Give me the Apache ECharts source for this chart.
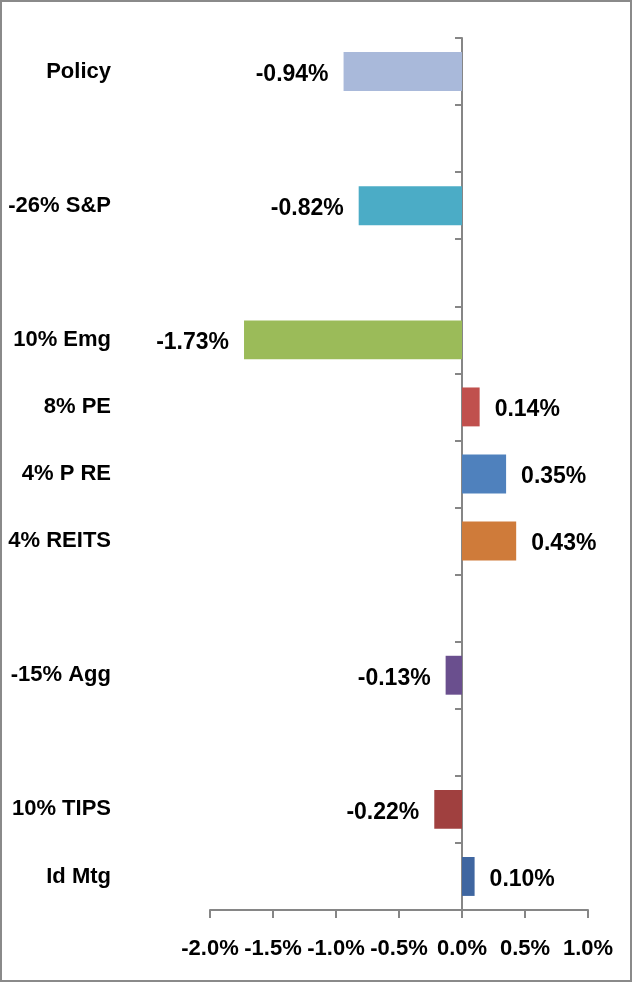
<!DOCTYPE html>
<html>
<head>
<meta charset="utf-8">
<script src="https://cdn.jsdelivr.net/npm/echarts@6/dist/echarts.min.js"></script>
<style>
  html, body { margin: 0; padding: 0; background: #fff; }
  #chart { position: absolute; left: 0; top: 0; width: 632px; height: 982px; }
  #frame { position: absolute; left: 0; top: 0; width: 632px; height: 982px; box-sizing: border-box; border: 2px solid #8a8a8a; pointer-events: none; }
</style>
</head>
<body>
<div id="chart"></div>
<div id="frame"></div>
<script>
// categories, top to bottom (blank rows are gaps in the original)
const categories = ['Policy', '', '-26% S&P', '', '10% Emg', '8% PE', '4% P RE', '4% REITS', '', '-15% Agg', '', '10% TIPS', 'Id Mtg'];
// contribution in percent
const values = [-0.94, null, -0.82, null, -1.73, 0.14, 0.35, 0.43, null, -0.13, null, -0.22, 0.10];
const barColors = ['#a9b9da', null, '#4bacc6', null, '#9bbb59', '#c0504d', '#4f81bd', '#cf7b3a', null, '#6a4f8e', null, '#a0403f', '#3f66a0'];
const xTicks = { min: -2, max: 1, step: 0.5 };

const FONT = '"Liberation Sans", Arial, sans-serif';
const axisGray = '#868686';

const chart = echarts.init(document.getElementById('chart'));

const barData = values.map((v, i) => {
    if (v === null) return null;
    return {
        value: v,
        itemStyle: { color: barColors[i] },
        label: { position: v < 0 ? 'left' : 'right' }
    };
});

chart.setOption({
    backgroundColor: '#fff',
    animation: false,
    grid: { left: 210, right: 44, top: 38, bottom: 72 },
    xAxis: {
        type: 'value',
        min: xTicks.min,
        max: xTicks.max,
        interval: xTicks.step,
        splitLine: { show: false },
        axisLine: { show: true, lineStyle: { color: axisGray, width: 2 } },
        axisTick: { show: true, length: 8, lineStyle: { color: axisGray, width: 2 } },
        axisLabel: {
            margin: 28,
            color: '#000',
            fontFamily: FONT,
            fontWeight: 'bold',
            fontSize: 22,
            formatter: v => v.toFixed(1) + '%'
        }
    },
    yAxis: [
        {
            type: 'category',
            data: categories,
            inverse: true,
            axisLine: { show: true, onZero: true, lineStyle: { color: axisGray, width: 2 } },
            axisTick: { show: true, interval: 0, length: 7, lineStyle: { color: axisGray, width: 2 } },
            axisLabel: { show: false }
        },
        {
            type: 'category',
            data: categories,
            inverse: true,
            position: 'left',
            axisLine: { show: false, onZero: false },
            axisTick: { show: false },
            axisLabel: {
                interval: 0,
                margin: 99,
                color: '#000',
                fontFamily: FONT,
                fontWeight: 'bold',
                fontSize: 22
            }
        }
    ],
    series: [
        {
            type: 'bar',
            yAxisIndex: 0,
            data: barData,
            barWidth: '58%',
            label: {
                show: true,
                distance: 15,
                offset: [0, 3],
                color: '#000',
                fontFamily: FONT,
                fontWeight: 'bold',
                fontSize: 23,
                formatter: p => p.value.toFixed(2) + '%'
            }
        }
    ]
});
</script>
</body>
</html>
